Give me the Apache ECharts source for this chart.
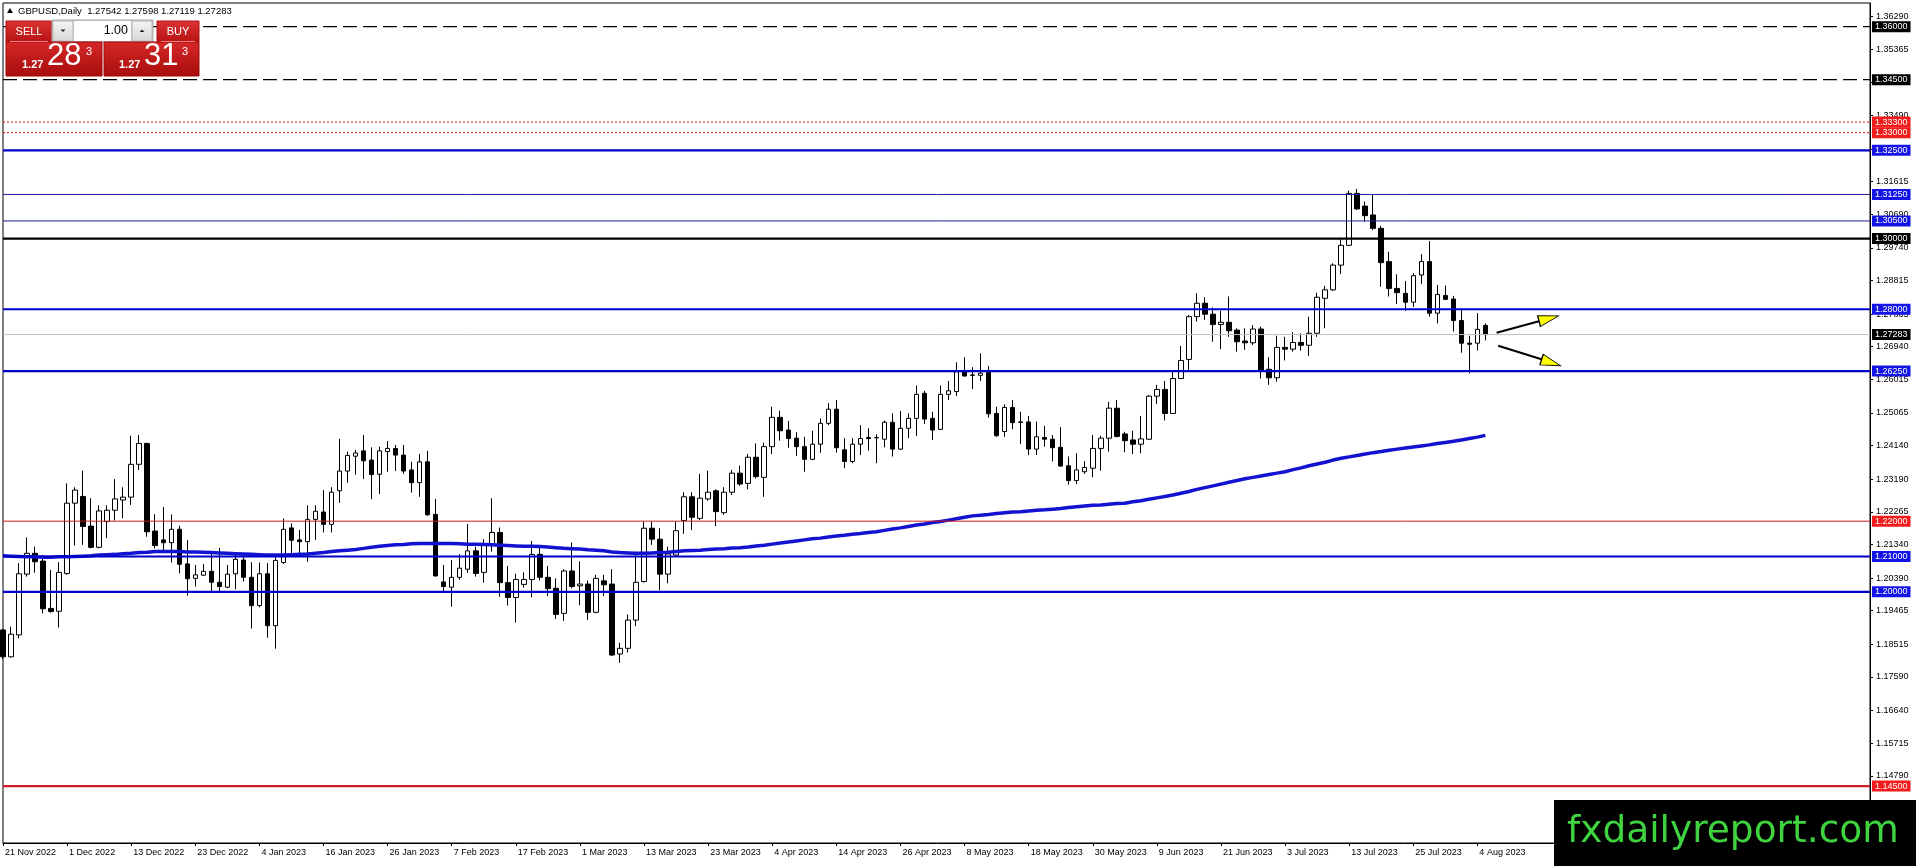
<!DOCTYPE html>
<html><head><meta charset="utf-8">
<script src="https://cdn.jsdelivr.net/npm/echarts@6/dist/echarts.min.js"></script>
<style>html,body{margin:0;padding:0;background:#fff;}#c{width:1916px;height:866px;}</style>
</head><body><div id="c"></div><script>
// ---------- data ----------
const startDay = [2022, 10, 21];   // 21 Nov 2022 (first daily bar)
const futureSlots = 48;            // empty space right of the last bar
const open = [1.1892,1.1816,1.1878,1.2050,1.2109,1.2087,1.1953,1.1945,1.2052,1.2251,
1.2270,1.2186,1.2126,1.2199,1.2231,1.2260,1.2268,1.2361,1.2420,1.2172,
1.2147,1.2139,1.2177,1.2079,1.2038,1.2047,1.2058,1.2027,1.2013,1.2051,
1.2090,1.2041,1.1961,1.2051,1.1904,1.2083,1.2181,1.2147,1.2142,1.2205,
1.2226,1.2191,1.2286,1.2342,1.2384,1.2399,1.2373,1.2333,1.2397,1.2406,
1.2387,1.2345,1.2309,1.2368,1.2219,1.2028,1.2013,1.2041,1.2064,1.2116,
1.2055,1.2135,1.2168,1.2026,1.1984,1.2021,1.2035,1.2106,1.2041,1.2010,
1.1939,1.2059,1.2017,1.2022,1.1942,1.2031,1.2022,1.1824,1.1840,1.1920,
1.2029,1.2180,1.2149,1.2050,1.2104,1.2202,1.2269,1.2208,1.2263,1.2286,
1.2224,1.2282,1.2336,1.2307,1.2381,1.2324,1.2411,1.2494,1.2458,1.2435,
1.2411,1.2375,1.2418,1.2477,1.2517,1.2402,1.2369,1.2418,1.2437,1.2436,
1.2432,1.2480,1.2404,1.2463,1.2491,1.2562,1.2491,1.2460,1.2559,1.2567,
1.2623,1.2614,1.2613,1.2621,1.2505,1.2454,1.2522,1.2481,1.2481,1.2404,
1.2437,1.2432,1.2409,1.2357,1.2315,1.2340,1.2350,1.2406,1.2435,1.2520,
1.2447,1.2430,1.2418,1.2432,1.2554,1.2573,1.2505,1.2604,1.2658,1.2779,
1.2817,1.2786,1.2757,1.2763,1.2741,1.2710,1.2705,1.2744,1.2630,1.2606,
1.2692,1.2687,1.2706,1.2698,1.2732,1.2831,1.2855,1.2925,1.2981,1.3128,
1.3092,1.3067,1.3029,1.2935,1.2859,1.2845,1.2820,1.2897,1.2935,1.2789,
1.2839,1.2829,1.2768,1.2704,1.2704,1.27542];
const close = [1.1816,1.1880,1.2051,1.2109,1.2085,1.1952,1.1944,1.2055,1.2251,1.2288,
1.2185,1.2126,1.2229,1.2231,1.2263,1.2268,1.2361,1.2420,1.2170,1.2131,
1.2139,1.2177,1.2078,1.2037,1.2048,1.2058,1.2027,1.2015,1.2050,1.2092,
1.2041,1.1961,1.2051,1.1904,1.2089,1.2177,1.2146,1.2142,1.2205,1.2228,
1.2191,1.2282,1.2342,1.2386,1.2393,1.2371,1.2332,1.2399,1.2406,1.2387,
1.2342,1.2309,1.2368,1.2218,1.2045,1.2015,1.2041,1.2067,1.2116,1.2052,
1.2135,1.2168,1.2026,1.1984,1.2035,1.2035,1.2106,1.2041,1.2009,1.1936,
1.2059,1.2015,1.2022,1.1942,1.2038,1.2020,1.1821,1.1840,1.1920,1.2027,
1.2180,1.2149,1.2050,1.2107,1.2173,1.2269,1.2211,1.2265,1.2282,1.2227,
1.2282,1.2336,1.2305,1.2381,1.2326,1.2411,1.2494,1.2456,1.2434,1.2411,
1.2375,1.2418,1.2477,1.2517,1.2408,1.2369,1.2418,1.2434,1.2434,1.2437,
1.2480,1.2404,1.2463,1.2491,1.2559,1.2489,1.2458,1.2559,1.2569,1.2623,
1.2611,1.2613,1.2619,1.2504,1.2442,1.2522,1.2479,1.2480,1.2404,1.2439,
1.2432,1.2408,1.2356,1.2315,1.2345,1.2352,1.2406,1.2435,1.2520,1.2440,
1.2428,1.2418,1.2433,1.2554,1.2573,1.2505,1.2604,1.2655,1.2779,1.2817,
1.2786,1.2757,1.2763,1.2739,1.2708,1.2705,1.2744,1.2628,1.2606,1.2692,
1.2687,1.2706,1.2698,1.2732,1.2834,1.2855,1.2925,1.2981,1.3128,1.3084,
1.3065,1.3029,1.2932,1.2859,1.2847,1.2820,1.2895,1.2935,1.2789,1.2842,
1.2828,1.2768,1.2704,1.2701,1.2743,1.27283];
const low = [1.1810,1.1814,1.1868,1.2043,1.2054,1.1939,1.1941,1.1899,1.2048,1.2131,
1.2133,1.2123,1.2123,1.2152,1.2202,1.2208,1.2246,1.2345,1.2156,1.2123,
1.2114,1.2083,1.2052,1.1989,1.2015,1.2045,1.2002,1.2002,1.2010,1.2007,
1.2029,1.1896,1.1956,1.1870,1.1839,1.2079,1.2109,1.2109,1.2085,1.2147,
1.2168,1.2168,1.2252,1.2309,1.2332,1.2319,1.2262,1.2277,1.2340,1.2342,
1.2334,1.2281,1.2269,1.2215,1.2043,1.2000,1.1958,1.2034,1.2054,1.2043,
1.2026,1.2114,1.1986,1.1961,1.1913,1.2012,1.1984,1.2032,1.1988,1.1923,
1.1918,1.2010,1.1962,1.1920,1.1939,1.1988,1.1818,1.1799,1.1828,1.1903,
1.2026,1.2133,1.2005,1.2024,1.2100,1.2164,1.2175,1.2203,1.2258,1.2186,
1.2218,1.2274,1.2300,1.2290,1.2321,1.2269,1.2390,1.2428,1.2408,1.2385,
1.2340,1.2373,1.2394,1.2472,1.2394,1.2350,1.2364,1.2387,1.2400,1.2364,
1.2409,1.2383,1.2402,1.2435,1.2441,1.2475,1.2430,1.2458,1.2543,1.2554,
1.2609,1.2574,1.2597,1.2493,1.2439,1.2439,1.2460,1.2418,1.2387,1.2387,
1.2411,1.2369,1.2354,1.2303,1.2305,1.2334,1.2324,1.2343,1.2397,1.2437,
1.2395,1.2390,1.2392,1.2430,1.2532,1.2485,1.2504,1.2602,1.2628,1.2765,
1.2770,1.2708,1.2687,1.2722,1.2680,1.2685,1.2699,1.2604,1.2586,1.2595,
1.2655,1.2680,1.2683,1.2668,1.2722,1.2746,1.2852,1.2900,1.2979,1.3081,
1.3048,1.3024,1.2864,1.2836,1.2815,1.2795,1.2806,1.2872,1.2779,1.2760,
1.2826,1.2737,1.2677,1.2619,1.2683,1.27119];
const high = [1.1895,1.1901,1.2081,1.2154,1.2128,1.2104,1.2062,1.2084,1.2307,1.2296,
1.2343,1.2265,1.2245,1.2245,1.2319,1.2296,1.2442,1.2444,1.2422,1.2220,
1.2240,1.2219,1.2187,1.2147,1.2076,1.2079,1.2109,1.2124,1.2076,1.2107,
1.2100,1.2084,1.2083,1.2081,1.2100,1.2208,1.2194,1.2175,1.2245,1.2245,
1.2288,1.2296,1.2433,1.2397,1.2402,1.2444,1.2409,1.2411,1.2427,1.2416,
1.2416,1.2368,1.2390,1.2399,1.2263,1.2076,1.2090,1.2107,1.2192,1.2128,
1.2149,1.2265,1.2182,1.2073,1.2051,1.2055,1.2144,1.2125,1.2073,1.2038,
1.2064,1.2140,1.2086,1.2032,1.2048,1.2048,1.2064,1.1856,1.1936,1.2107,
1.2199,1.2199,1.2180,1.2128,1.2199,1.2282,1.2282,1.2334,1.2343,1.2290,
1.2296,1.2345,1.2357,1.2390,1.2420,1.2422,1.2524,1.2513,1.2484,1.2452,
1.2439,1.2456,1.2491,1.2534,1.2543,1.2435,1.2435,1.2472,1.2463,1.2446,
1.2485,1.2505,1.2512,1.2505,1.2584,1.2569,1.2510,1.2584,1.2597,1.2650,
1.2664,1.2636,1.2675,1.2639,1.2524,1.2531,1.2543,1.2510,1.2498,1.2482,
1.2470,1.2444,1.2466,1.2383,1.2392,1.2370,1.2444,1.2442,1.2538,1.2543,
1.2453,1.2456,1.2498,1.2557,1.2586,1.2597,1.2623,1.2696,1.2784,1.2845,
1.2834,1.2805,1.2796,1.2836,1.2746,1.2746,1.2755,1.2751,1.2664,1.2725,
1.2722,1.2735,1.2732,1.2779,1.2847,1.2866,1.2930,1.2998,1.3136,1.3141,
1.3105,1.3124,1.3036,1.2963,1.2899,1.2880,1.2902,1.2956,1.2993,1.2869,
1.2867,1.2838,1.2803,1.2725,1.2789,1.27598];
const ma200 = [1.2102,1.2101,1.2100,1.2099,1.2099,1.2098,1.2098,1.2099,1.2099,
1.2100,1.2101,1.2102,1.2104,1.2105,1.2106,1.2108,1.2109,
1.2111,1.2112,1.2114,1.2114,1.2114,1.2114,
1.2113,1.2113,1.2112,1.2111,1.2110,1.2109,1.2108,1.2107,
1.2106,1.2105,1.2104,1.2104,1.2104,
1.2105,1.2106,1.2107,1.2109,1.2111,1.2114,
1.2116,1.2118,1.2120,1.2123,1.2126,1.2129,1.2131,
1.2133,1.2134,1.2136,1.2137,1.2137,1.2137,1.2137,
1.2137,1.2136,1.2135,1.2135,1.2134,1.2133,1.2132,1.2131,1.2130,
1.2129,1.2129,1.2128,1.2127,1.2125,1.2123,
1.2122,1.2121,1.2119,1.2118,1.2116,1.2113,1.2111,1.2110,1.2109,
1.2109,1.2110,1.2111,1.2112,1.2114,1.2116,
1.2117,1.2118,1.2120,1.2121,1.2122,1.2124,1.2125,1.2127,
1.2130,1.2132,1.2135,1.2138,1.2141,1.2144,1.2147,
1.2150,1.2152,1.2155,1.2158,1.2160,1.2163,1.2165,1.2168,1.2170,
1.2174,1.2178,1.2181,1.2185,1.2189,1.2192,1.2196,1.2199,
1.2203,1.2207,1.2211,1.2215,1.2217,1.2219,1.2222,1.2224,
1.2226,1.2227,1.2229,1.2231,1.2232,1.2234,1.2236,1.2239,1.2241,
1.2243,1.2245,1.2246,1.2248,1.2250,1.2251,
1.2255,1.2258,1.2262,1.2266,1.2270,1.2274,
1.2279,1.2284,1.2290,1.2295,1.2300,1.2305,1.2310,
1.2315,1.2320,1.2324,1.2328,1.2332,1.2336,1.2340,
1.2346,1.2351,1.2357,1.2362,1.2367,1.2373,1.2378,
1.2382,1.2386,1.2390,1.2394,1.2397,1.2401,1.2404,
1.2407,1.2410,1.2413,1.2416,1.2420,1.2423,
1.2426,1.2430,1.2434,1.2438,1.2443];
const yTicks = [1.14790,1.15715,1.16640,1.17590,1.18515,1.19465,1.20390,1.21340,1.22265,1.23190,
1.24140,1.25065,1.26015,1.26940,1.27865,1.28815,1.29740,1.30690,1.31615,1.32540,1.33490,1.34415,1.35365,1.36290];
const levels = [1.36000,1.34500,1.33300,1.33000,1.32500,1.31250,1.30500,1.30000,1.28000,1.27283,1.26250,1.22000,1.21000,1.20000,1.14500];
const levelKind = ['dashBlack','dashBlack','dotRed','dotRed','blueThick','blueThin','blueThin','blackThick','blueThick','bid','blueThick','redThin','blueThick','blueThick','redThick'];
const arrowUp = [[186.4,1.27337],[191.8,1.27668]];
const arrowDown = [[186.6,1.26968],[192.1,1.26578]];
const arrowHeads = [[192.9,1.27739],[193.2,1.26487]];
const headRotation = [-75,-108];
const header = 'GBPUSD,Daily  1.27542 1.27598 1.27119 1.27283';

// ---------- styles ----------
const kindStyle = {
  dashBlack:{line:{color:'#000',width:1.2,type:[14,6]},tag:'#000'},
  dotRed:{line:{color:'#e01010',width:1,type:[2,2]},tag:'#f21c1c'},
  blueThick:{line:{color:'#0000c8',width:2.2,type:'solid'},tag:'#1414e6'},
  blueThin:{line:{color:'#1c1ca0',width:1,type:'solid'},tag:'#1414e6'},
  blackThick:{line:{color:'#000',width:2.4,type:'solid'},tag:'#000'},
  bid:{line:{color:'#c0c0c0',width:1,type:'solid'},tag:'#000'},
  redThin:{line:{color:'#cc1a1a',width:1,type:'solid'},tag:'#f21c1c'},
  redThick:{line:{color:'#c81e28',width:2.2,type:'solid'},tag:'#f21c1c'}
};
const FONT = 'Liberation Sans';
const MONTHS = ['Jan','Feb','Mar','Apr','May','Jun','Jul','Aug','Sep','Oct','Nov','Dec'];
const dates = [];
let d = new Date(Date.UTC(startDay[0], startDay[1], startDay[2]));
while (dates.length < open.length + futureSlots) {
  const wd = d.getUTCDay();
  if (wd !== 0 && wd !== 6) dates.push(d.getUTCDate() + ' ' + MONTHS[d.getUTCMonth()] + ' ' + d.getUTCFullYear());
  d = new Date(d.getTime() + 86400000);
}
const nBars = open.length;
const lastSlot = dates.length - 1;
const showIdx = (i) => i % 8 === 0 && i < nBars;
const Y_MIN = 1.12888, Y_MAX = 1.36671;

const candleData = open.map((o, i) => [o, close[i], low[i], high[i]]);
const rich = {};
Object.keys(kindStyle).forEach(k => {
  rich[k] = {color:'#fff', backgroundColor: kindStyle[k].tag, padding:[1,3,1,3], fontSize:9, lineHeight:9, fontFamily:FONT};
});
const levelSeries = levels.map((v, i) => ({
  type: 'line', xAxisIndex: 1, yAxisIndex: 0, data: [[0, v], [lastSlot, v]],
  symbol: 'none', silent: true, z: 4, lineStyle: kindStyle[levelKind[i]].line
}));
const tagFormatter = (v) => {
  let k = 0, best = 1;
  levels.forEach((lv, i) => { const e = Math.abs(lv - v); if (e < best) { best = e; k = i; } });
  return '{' + levelKind[k] + '|' + levels[k].toFixed(5) + '}';
};

const redGrad = () => new echarts.graphic.LinearGradient(0,0,0,1,[{offset:0,color:'#dd3434'},{offset:1,color:'#b51212'}]);
const panelGrad = () => new echarts.graphic.LinearGradient(0,0,0,1,[{offset:0,color:'#d62828'},{offset:1,color:'#a80c0c'}]);
const btnGrad = () => new echarts.graphic.LinearGradient(0,0,0,1,[{offset:0,color:'#f4f4f4'},{offset:1,color:'#d6d6d6'}]);
const txt = (x, y, text, font, fill, align, va) => ({type:'text', x, y, z:101,
  style:{text, font, fill, align, verticalAlign: va, textAlign: align, textVerticalAlign: va}});

const chart = echarts.init(document.getElementById('c'), null, {renderer: 'canvas'});
chart.setOption({
  animation: false,
  backgroundColor: '#fff',
  grid: {left: 3, right: 46, top: 3, bottom: 23, show: true, borderColor: '#000', borderWidth: 1, backgroundColor: 'transparent'},
  xAxis: [{
    type: 'category', data: dates, boundaryGap: false,
    axisLine: {onZero: false, lineStyle: {color: '#000', width: 1}},
    axisTick: {show: true, interval: showIdx, length: 3, lineStyle: {color: '#000'}},
    axisLabel: {interval: showIdx, align: 'left', padding: [0,0,0,2], margin: 5, fontSize: 9, fontFamily: FONT, color: '#000'},
    splitLine: {show: false}
  }, {
    type: 'value', min: 0, max: lastSlot, show: false, axisLine: {onZero: false}
  }],
  yAxis: [{
    type: 'value', position: 'right', min: Y_MIN, max: Y_MAX,
    axisLine: {show: true, onZero: false, lineStyle: {color: '#000', width: 1}},
    axisTick: {show: true, length: 3, customValues: yTicks, lineStyle: {color: '#000'}},
    axisLabel: {customValues: yTicks, formatter: (v) => v.toFixed(5), margin: 6, fontSize: 9, fontFamily: FONT, color: '#000'},
    splitLine: {show: false}
  }, {
    type: 'value', position: 'right', min: Y_MIN, max: Y_MAX, z: 5,
    axisLine: {show: false, onZero: false}, axisTick: {show: false}, splitLine: {show: false},
    axisLabel: {customValues: levels, formatter: tagFormatter, margin: 2, rich: rich, hideOverlap: false}
  }],
  series: [{
    type: 'candlestick', data: candleData, barWidth: 5, xAxisIndex: 0,
    itemStyle: {color: '#fff', color0: '#000', borderColor: '#000', borderColor0: '#000', borderWidth: 1},
    silent: true
  }, {
    type: 'line', data: ma200, xAxisIndex: 0, symbol: 'none', showSymbol: false, z: 3, silent: true,
    lineStyle: {color: '#1212d0', width: 3.5}
  }].concat(levelSeries).concat([{
    type: 'line', data: arrowUp, xAxisIndex: 1, symbol: 'none', z: 6, silent: true,
    lineStyle: {color: '#000', width: 2}
  }, {
    type: 'line', data: arrowDown, xAxisIndex: 1, symbol: 'none', z: 6, silent: true,
    lineStyle: {color: '#000', width: 2}
  }, {
    type: 'scatter', xAxisIndex: 1, z: 7, silent: true, symbol: 'triangle', symbolSize: [11, 20],
    data: arrowHeads.map((p, i) => ({value: p, symbolRotate: headRotation[i]})),
    itemStyle: {color: '#ffff00', borderColor: '#000', borderWidth: 1, opacity: 1}
  }]),
  graphic: {elements: [
    // header
    {type:'polygon', z:101, shape:{points:[[7,13],[13,13],[10,8]]}, style:{fill:'#000'}},
    txt(18, 11, header, '9.5px "Liberation Sans"', '#000', 'left', 'middle'),
    // SELL button
    {type:'rect', z:100, shape:{x:6,y:21,width:46,height:21}, style:{fill:redGrad(), stroke:'#b01010', lineWidth:1}},
    txt(29, 31.5, 'SELL', '11px "Liberation Sans"', '#fff', 'center', 'middle'),
    {type:'line', z:101, shape:{x1:10,y1:41.5,x2:48,y2:41.5}, style:{stroke:'#f08080', lineWidth:1}},
    // lot control
    {type:'rect', z:100, shape:{x:52,y:20,width:101,height:22}, style:{fill:'#c8c8c8', stroke:'#a8a8a8', lineWidth:1}},
    {type:'rect', z:100, shape:{x:53,y:21,width:20,height:20}, style:{fill:btnGrad(), stroke:'#b8b8b8', lineWidth:1}},
    {type:'rect', z:100, shape:{x:74,y:21,width:57,height:20}, style:{fill:'#fff'}},
    {type:'rect', z:100, shape:{x:132,y:21,width:20,height:20}, style:{fill:btnGrad(), stroke:'#b8b8b8', lineWidth:1}},
    {type:'polygon', z:101, shape:{points:[[60.5,29.5],[65.5,29.5],[63,32]]}, style:{fill:'#222'}},
    {type:'polygon', z:101, shape:{points:[[139.5,32],[144.5,32],[142,29.5]]}, style:{fill:'#222'}},
    txt(128, 31, '1.00', '12.5px "Liberation Sans"', '#000', 'right', 'middle'),
    // BUY button
    {type:'rect', z:100, shape:{x:157,y:21,width:42,height:21}, style:{fill:redGrad(), stroke:'#b01010', lineWidth:1}},
    txt(178, 31.5, 'BUY', '11px "Liberation Sans"', '#fff', 'center', 'middle'),
    {type:'line', z:101, shape:{x1:161,y1:41.5,x2:195,y2:41.5}, style:{stroke:'#f08080', lineWidth:1}},
    // price panels
    {type:'rect', z:100, shape:{x:6,y:42,width:96,height:34}, style:{fill:panelGrad(), stroke:'#a00a0a', lineWidth:1}},
    {type:'rect', z:100, shape:{x:104,y:42,width:95,height:34}, style:{fill:panelGrad(), stroke:'#a00a0a', lineWidth:1}},
    txt(22, 70, '1.27', 'bold 11px "Liberation Sans"', '#fff', 'left', 'bottom'),
    txt(47, 71.5, '28', '31px "Liberation Sans"', '#fff', 'left', 'bottom'),
    txt(86, 46, '3', '11px "Liberation Sans"', '#fff', 'left', 'top'),
    txt(119, 70, '1.27', 'bold 11px "Liberation Sans"', '#fff', 'left', 'bottom'),
    txt(144, 71.5, '31', '31px "Liberation Sans"', '#fff', 'left', 'bottom'),
    txt(182, 46, '3', '11px "Liberation Sans"', '#fff', 'left', 'top'),
    // watermark
    {type:'rect', z:100, shape:{x:1554,y:800,width:362,height:66}, style:{fill:'#000'}},
    txt(1567, 832, 'fxdailyreport.com', '37.5px "DejaVu Sans"', '#3fd43f', 'left', 'middle')
  ]}
});
</script></body></html>
